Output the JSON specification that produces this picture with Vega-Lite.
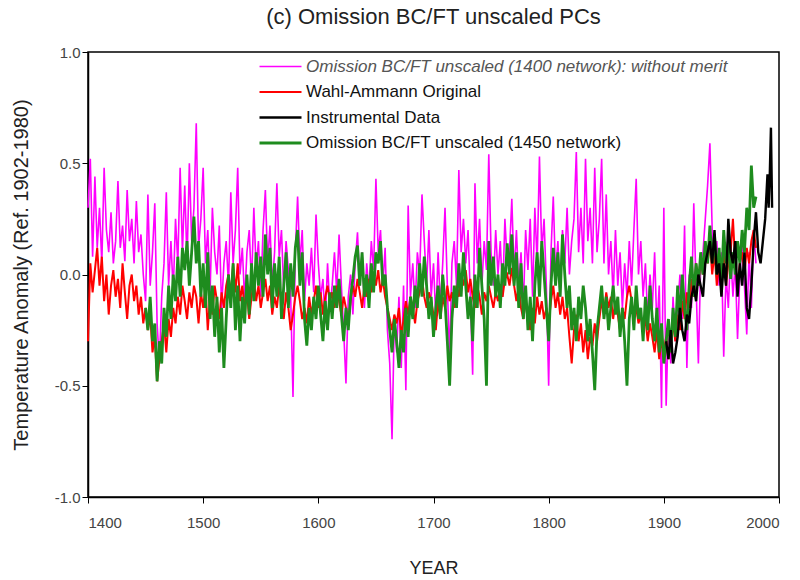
{
"$schema":"https://vega.github.io/schema/vega-lite/v6.json",
"width":691,"height":445,
"autosize":{"type":"none"},
"padding":{"left":88,"top":52,"right":21,"bottom":83},
"background":"white",
"title":{"text":"(c) Omission BC/FT unscaled PCs","fontSize":22,"font":"Liberation Sans","fontWeight":"normal","color":"#222","offset":16,"anchor":"middle"},
"config":{"view":{"stroke":"#000","strokeWidth":1.5},"font":"Liberation Sans"},
"data":{"values":[
{"year":1400,"m":0.30,"r":-0.30},{"year":1402,"m":0.52,"r":0.05},{"year":1404,"m":0.08,"r":-0.08},{"year":1406,"m":0.44,"r":0.02},{"year":1408,"m":0.12,"r":0.12},
{"year":1410,"m":0.30,"r":-0.05},{"year":1412,"m":0.05,"r":0.08},{"year":1414,"m":0.48,"r":-0.12},{"year":1416,"m":0.20,"r":0.00},{"year":1418,"m":0.10,"r":-0.18},
{"year":1420,"m":0.28,"r":-0.05},{"year":1422,"m":0.05,"r":0.02},{"year":1424,"m":0.15,"r":-0.10},{"year":1426,"m":0.42,"r":-0.02},{"year":1428,"m":0.12,"r":-0.15},
{"year":1430,"m":0.22,"r":0.05},{"year":1432,"m":0.06,"r":-0.08},{"year":1434,"m":0.38,"r":-0.20},{"year":1436,"m":0.15,"r":-0.05},{"year":1438,"m":0.25,"r":0.00},
{"year":1440,"m":0.05,"r":-0.12},{"year":1442,"m":0.33,"r":-0.05},{"year":1444,"m":0.10,"r":-0.18},{"year":1446,"m":0.18,"r":-0.10},{"year":1448,"m":0.00,"r":-0.22},
{"year":1450,"m":-0.12,"r":-0.15,"g":-0.15},{"year":1452,"m":0.36,"r":-0.25,"g":-0.25},{"year":1454,"m":-0.05,"r":-0.18,"g":-0.10},{"year":1456,"m":0.10,"r":-0.35,"g":-0.30},{"year":1458,"m":0.32,"r":-0.28,"g":-0.22},
{"year":1460,"m":-0.22,"r":-0.48,"g":-0.48},{"year":1462,"m":-0.40,"r":-0.38,"g":-0.30},{"year":1464,"m":-0.10,"r":-0.30,"g":-0.40},{"year":1466,"m":0.05,"r":-0.22,"g":-0.15},{"year":1468,"m":0.37,"r":-0.35,"g":-0.28},
{"year":1470,"m":-0.05,"r":-0.20,"g":-0.05},{"year":1472,"m":0.15,"r":-0.28,"g":-0.20},{"year":1474,"m":-0.08,"r":-0.15,"g":0.00},{"year":1476,"m":0.25,"r":-0.22,"g":-0.12},{"year":1478,"m":0.05,"r":-0.10,"g":0.08},
{"year":1480,"m":0.48,"r":-0.18,"g":-0.10},{"year":1482,"m":0.10,"r":-0.05,"g":0.12},{"year":1484,"m":0.40,"r":-0.12,"g":0.02},{"year":1486,"m":0.05,"r":-0.20,"g":0.15},{"year":1488,"m":0.50,"r":-0.08,"g":-0.05},
{"year":1490,"m":0.15,"r":-0.15,"g":0.10},{"year":1492,"m":0.30,"r":-0.05,"g":0.26},{"year":1494,"m":0.68,"r":-0.10,"g":0.05},{"year":1496,"m":0.12,"r":-0.22,"g":0.15},{"year":1498,"m":0.25,"r":-0.08,"g":-0.10},
{"year":1500,"m":0.48,"r":-0.15,"g":0.05},{"year":1502,"m":0.05,"r":-0.05,"g":-0.15},{"year":1504,"m":0.20,"r":-0.25,"g":0.10},{"year":1506,"m":-0.08,"r":-0.10,"g":-0.20},{"year":1508,"m":0.30,"r":-0.18,"g":-0.05},
{"year":1510,"m":0.10,"r":-0.05,"g":-0.28},{"year":1512,"m":0.00,"r":-0.12,"g":-0.10},{"year":1514,"m":0.22,"r":-0.20,"g":-0.35},{"year":1516,"m":-0.15,"r":-0.08,"g":-0.15},{"year":1518,"m":0.05,"r":-0.15,"g":-0.42},
{"year":1520,"m":0.15,"r":-0.05,"g":-0.20},{"year":1522,"m":-0.05,"r":0.00,"g":0.00},{"year":1524,"m":0.37,"r":-0.10,"g":-0.15},{"year":1526,"m":0.05,"r":0.05,"g":0.05},{"year":1528,"m":0.20,"r":-0.08,"g":-0.25},
{"year":1530,"m":0.48,"r":0.05,"g":-0.05},{"year":1532,"m":0.00,"r":-0.12,"g":-0.30},{"year":1534,"m":0.12,"r":-0.05,"g":-0.10},{"year":1536,"m":-0.12,"r":-0.15,"g":-0.22},{"year":1538,"m":0.10,"r":-0.08,"g":0.00},
{"year":1540,"m":0.20,"r":-0.20,"g":-0.18},{"year":1542,"m":-0.05,"r":-0.10,"g":0.05},{"year":1544,"m":0.30,"r":-0.02,"g":-0.12},{"year":1546,"m":0.02,"r":-0.12,"g":0.10},{"year":1548,"m":0.15,"r":-0.05,"g":-0.05},
{"year":1550,"m":-0.10,"r":-0.15,"g":0.08},{"year":1552,"m":0.20,"r":-0.08,"g":-0.10},{"year":1554,"m":0.38,"r":-0.02,"g":0.18},{"year":1556,"m":0.05,"r":-0.12,"g":0.00},{"year":1558,"m":0.22,"r":-0.05,"g":0.12},
{"year":1560,"m":-0.05,"r":-0.18,"g":-0.15},{"year":1562,"m":0.10,"r":-0.10,"g":0.05},{"year":1564,"m":0.41,"r":-0.15,"g":-0.10},{"year":1566,"m":0.08,"r":-0.05,"g":0.08},{"year":1568,"m":0.20,"r":-0.12,"g":-0.20},
{"year":1570,"m":-0.08,"r":-0.20,"g":-0.05},{"year":1572,"m":0.15,"r":-0.08,"g":0.10},{"year":1574,"m":0.02,"r":-0.15,"g":-0.15},{"year":1576,"m":-0.10,"r":-0.25,"g":0.05},{"year":1578,"m":-0.55,"r":-0.18,"g":-0.10},
{"year":1580,"m":0.10,"r":-0.10,"g":0.12},{"year":1582,"m":0.35,"r":-0.05,"g":0.20},{"year":1584,"m":0.05,"r":-0.12,"g":-0.05},{"year":1586,"m":0.20,"r":-0.20,"g":0.10},{"year":1588,"m":-0.12,"r":-0.15,"g":-0.20},
{"year":1590,"m":0.05,"r":-0.22,"g":-0.32},{"year":1592,"m":-0.05,"r":-0.10,"g":-0.15},{"year":1594,"m":0.12,"r":-0.18,"g":-0.25},{"year":1596,"m":-0.08,"r":-0.12,"g":-0.10},{"year":1598,"m":0.27,"r":-0.05,"g":-0.20},
{"year":1600,"m":0.05,"r":-0.15,"g":-0.05},{"year":1602,"m":-0.10,"r":-0.08,"g":-0.18},{"year":1604,"m":-0.02,"r":-0.18,"g":-0.30},{"year":1606,"m":-0.22,"r":-0.10,"g":-0.12},{"year":1608,"m":0.05,"r":-0.05,"g":-0.25},
{"year":1610,"m":-0.15,"r":-0.12,"g":-0.08},{"year":1612,"m":-0.05,"r":-0.08,"g":-0.20},{"year":1614,"m":0.10,"r":-0.15,"g":-0.05},{"year":1616,"m":-0.08,"r":-0.05,"g":-0.15},{"year":1618,"m":0.18,"r":-0.12,"g":-0.02},
{"year":1620,"m":-0.05,"r":-0.18,"g":-0.18},{"year":1622,"m":-0.25,"r":-0.10,"g":-0.30},{"year":1624,"m":-0.49,"r":-0.15,"g":-0.15},{"year":1626,"m":-0.10,"r":-0.22,"g":-0.25},{"year":1628,"m":0.00,"r":-0.12,"g":-0.10},
{"year":1630,"m":-0.18,"r":-0.05,"g":-0.02},{"year":1632,"m":0.05,"r":-0.10,"g":0.08},{"year":1634,"m":0.19,"r":-0.02,"g":0.13},{"year":1636,"m":-0.05,"r":-0.08,"g":-0.05},{"year":1638,"m":0.10,"r":-0.15,"g":0.10},
{"year":1640,"m":-0.15,"r":-0.05,"g":-0.10},{"year":1642,"m":0.05,"r":-0.10,"g":0.00},{"year":1644,"m":-0.08,"r":-0.02,"g":-0.15},{"year":1646,"m":0.15,"r":-0.08,"g":0.05},{"year":1648,"m":0.02,"r":0.00,"g":-0.08},
{"year":1650,"m":0.43,"r":-0.05,"g":0.10},{"year":1652,"m":0.10,"r":0.02,"g":0.05},{"year":1654,"m":0.20,"r":-0.08,"g":0.15},{"year":1656,"m":-0.05,"r":-0.02,"g":-0.05},{"year":1658,"m":0.12,"r":-0.10,"g":0.00},
{"year":1660,"m":-0.25,"r":-0.15,"g":-0.15},{"year":1662,"m":-0.40,"r":-0.20,"g":-0.25},{"year":1664,"m":-0.74,"r":-0.25,"g":-0.35},{"year":1666,"m":-0.20,"r":-0.18,"g":-0.20},{"year":1668,"m":-0.35,"r":-0.22,"g":-0.30},
{"year":1670,"m":-0.10,"r":-0.15,"g":-0.42},{"year":1672,"m":-0.42,"r":-0.28,"g":-0.25},{"year":1674,"m":-0.05,"r":-0.20,"g":-0.35},{"year":1676,"m":-0.52,"r":-0.12,"g":-0.15},{"year":1678,"m":0.31,"r":-0.18,"g":-0.28},
{"year":1680,"m":-0.10,"r":-0.10,"g":-0.10},{"year":1682,"m":0.05,"r":-0.15,"g":-0.20},{"year":1684,"m":-0.15,"r":-0.22,"g":-0.05},{"year":1686,"m":0.10,"r":-0.12,"g":-0.15},{"year":1688,"m":0.00,"r":-0.08,"g":0.05},
{"year":1690,"m":0.36,"r":-0.02,"g":-0.10},{"year":1692,"m":0.15,"r":-0.10,"g":0.08},{"year":1694,"m":-0.05,"r":-0.15,"g":-0.05},{"year":1696,"m":0.20,"r":-0.08,"g":-0.20},{"year":1698,"m":-0.10,"r":-0.12,"g":-0.10},
{"year":1700,"m":0.05,"r":-0.18,"g":-0.28},{"year":1702,"m":-0.20,"r":-0.25,"g":-0.15},{"year":1704,"m":0.10,"r":-0.12,"g":-0.05},{"year":1706,"m":-0.15,"r":-0.20,"g":-0.20},{"year":1708,"m":0.05,"r":-0.10,"g":0.00},
{"year":1710,"m":0.30,"r":-0.15,"g":-0.12},{"year":1712,"m":-0.05,"r":-0.05,"g":-0.30},{"year":1714,"m":-0.38,"r":-0.12,"g":-0.50},{"year":1716,"m":0.05,"r":-0.08,"g":-0.20},{"year":1718,"m":0.15,"r":-0.15,"g":-0.05},
{"year":1720,"m":-0.05,"r":-0.05,"g":-0.15},{"year":1722,"m":0.47,"r":-0.10,"g":0.05},{"year":1724,"m":0.10,"r":0.00,"g":-0.10},{"year":1726,"m":0.25,"r":-0.05,"g":0.10},{"year":1728,"m":0.05,"r":0.02,"g":-0.05},
{"year":1730,"m":0.20,"r":-0.08,"g":-0.20},{"year":1732,"m":-0.10,"r":-0.02,"g":-0.10},{"year":1734,"m":-0.45,"r":-0.10,"g":-0.30},{"year":1736,"m":0.41,"r":-0.15,"g":0.00},{"year":1738,"m":0.05,"r":-0.05,"g":-0.15},
{"year":1740,"m":0.25,"r":-0.10,"g":0.12},{"year":1742,"m":-0.05,"r":-0.18,"g":-0.05},{"year":1744,"m":0.15,"r":-0.08,"g":-0.20},{"year":1746,"m":0.02,"r":-0.12,"g":-0.50},{"year":1748,"m":0.54,"r":-0.05,"g":0.15},
{"year":1750,"m":0.10,"r":-0.10,"g":-0.05},{"year":1752,"m":-0.05,"r":-0.15,"g":0.08},{"year":1754,"m":0.20,"r":-0.08,"g":-0.10},{"year":1756,"m":0.00,"r":-0.12,"g":0.00},{"year":1758,"m":0.15,"r":-0.05,"g":-0.15},
{"year":1760,"m":-0.10,"r":-0.10,"g":0.05},{"year":1762,"m":0.25,"r":-0.02,"g":-0.05},{"year":1764,"m":0.05,"r":0.00,"g":0.14},{"year":1766,"m":0.10,"r":-0.05,"g":0.00},{"year":1768,"m":0.34,"r":0.03,"g":0.18},
{"year":1770,"m":0.00,"r":-0.05,"g":-0.05},{"year":1772,"m":0.20,"r":-0.12,"g":0.10},{"year":1774,"m":-0.05,"r":-0.05,"g":-0.15},{"year":1776,"m":0.10,"r":-0.15,"g":0.05},{"year":1778,"m":-0.15,"r":-0.20,"g":-0.20},
{"year":1780,"m":0.20,"r":-0.12,"g":-0.05},{"year":1782,"m":0.02,"r":-0.18,"g":-0.25},{"year":1784,"m":0.25,"r":-0.25,"g":-0.10},{"year":1786,"m":-0.10,"r":-0.15,"g":-0.30},{"year":1788,"m":0.30,"r":-0.22,"g":-0.05},
{"year":1790,"m":0.05,"r":-0.10,"g":0.10},{"year":1792,"m":0.53,"r":-0.18,"g":-0.10},{"year":1794,"m":0.10,"r":-0.12,"g":0.15},{"year":1796,"m":0.25,"r":-0.20,"g":0.00},{"year":1798,"m":-0.05,"r":-0.15,"g":-0.15},
{"year":1800,"m":-0.50,"r":-0.22,"g":-0.30},{"year":1802,"m":0.10,"r":-0.12,"g":-0.05},{"year":1804,"m":0.35,"r":-0.05,"g":0.12},{"year":1806,"m":0.00,"r":-0.15,"g":-0.05},{"year":1808,"m":0.15,"r":-0.08,"g":0.10},
{"year":1810,"m":-0.10,"r":-0.18,"g":-0.10},{"year":1812,"m":0.20,"r":-0.10,"g":0.18},{"year":1814,"m":0.05,"r":-0.20,"g":0.00},{"year":1816,"m":0.30,"r":-0.15,"g":-0.15},{"year":1818,"m":0.00,"r":-0.28,"g":-0.05},
{"year":1820,"m":0.15,"r":-0.40,"g":-0.25},{"year":1822,"m":0.25,"r":-0.25,"g":-0.15},{"year":1824,"m":0.55,"r":-0.18,"g":-0.30},{"year":1826,"m":0.10,"r":-0.30,"g":-0.10},{"year":1828,"m":0.30,"r":-0.22,"g":-0.20},
{"year":1830,"m":0.05,"r":-0.35,"g":-0.05},{"year":1832,"m":0.52,"r":-0.25,"g":-0.15},{"year":1834,"m":0.15,"r":-0.38,"g":-0.30},{"year":1836,"m":0.30,"r":-0.28,"g":-0.20},{"year":1838,"m":0.05,"r":-0.32,"g":-0.35},
{"year":1840,"m":0.48,"r":-0.22,"g":-0.52},{"year":1842,"m":0.10,"r":-0.30,"g":-0.25},{"year":1844,"m":0.25,"r":-0.20,"g":-0.15},{"year":1846,"m":0.52,"r":-0.12,"g":-0.05},{"year":1848,"m":0.05,"r":-0.18,"g":-0.20},
{"year":1850,"m":0.36,"r":-0.08,"g":-0.10},{"year":1852,"m":0.00,"r":-0.15,"g":-0.25},{"year":1854,"m":0.15,"r":-0.10,"g":-0.15},{"year":1856,"m":-0.10,"r":-0.20,"g":-0.05},{"year":1858,"m":0.20,"r":-0.12,"g":-0.18},
{"year":1860,"m":-0.05,"r":-0.18,"g":-0.10},{"year":1862,"m":0.10,"r":-0.25,"g":-0.28},{"year":1864,"m":-0.15,"r":-0.15,"g":-0.15},{"year":1866,"m":0.05,"r":-0.20,"g":-0.30},{"year":1868,"m":-0.10,"r":-0.10,"g":-0.50},
{"year":1870,"m":0.15,"r":-0.05,"g":-0.20},{"year":1872,"m":-0.05,"r":-0.12,"g":-0.10},{"year":1874,"m":0.20,"r":-0.20,"g":-0.25},{"year":1876,"m":0.43,"r":-0.15,"g":-0.05},{"year":1878,"m":0.00,"r":-0.22,"g":-0.20},
{"year":1880,"m":0.15,"r":-0.18,"g":-0.15},{"year":1882,"m":-0.10,"r":-0.25,"g":-0.30},{"year":1884,"m":0.05,"r":-0.20,"g":-0.10},{"year":1886,"m":-0.20,"r":-0.30,"g":-0.25},{"year":1888,"m":0.00,"r":-0.22,"g":-0.05},
{"year":1890,"m":-0.15,"r":-0.28,"g":-0.20},{"year":1892,"m":0.10,"r":-0.35,"g":-0.30},{"year":1894,"m":-0.25,"r":-0.25,"g":-0.15},{"year":1896,"m":-0.05,"r":-0.38,"g":-0.35},{"year":1898,"m":-0.60,"r":-0.30,"g":-0.22},
{"year":1900,"m":0.30,"r":-0.35,"g":-0.40},{"year":1902,"m":-0.59,"r":-0.28,"g":-0.30,"b":-0.30},{"year":1904,"m":-0.20,"r":-0.38,"g":-0.20,"b":-0.38},{"year":1906,"m":-0.40,"r":-0.30,"g":-0.35,"b":-0.25},{"year":1908,"m":-0.10,"r":-0.22,"g":-0.15,"b":-0.40},
{"year":1910,"m":-0.30,"r":-0.30,"g":-0.28,"b":-0.35},{"year":1912,"m":-0.15,"r":-0.18,"g":-0.05,"b":-0.28},{"year":1914,"m":0.00,"r":-0.25,"g":-0.20,"b":-0.15},{"year":1916,"m":-0.20,"r":-0.12,"g":0.00,"b":-0.25},{"year":1918,"m":0.22,"r":-0.20,"g":-0.15,"b":-0.30},
{"year":1920,"m":-0.42,"r":-0.08,"g":-0.25,"b":-0.18},{"year":1922,"m":0.00,"r":-0.15,"g":-0.05,"b":-0.22},{"year":1924,"m":-0.15,"r":-0.02,"g":0.08,"b":-0.10},{"year":1926,"m":0.32,"r":-0.10,"g":-0.10,"b":-0.05},{"year":1928,"m":-0.05,"r":0.05,"g":0.05,"b":-0.12},
{"year":1930,"m":-0.40,"r":-0.05,"g":-0.05,"b":0.00},{"year":1932,"m":0.05,"r":0.08,"g":0.10,"b":-0.05},{"year":1934,"m":0.10,"r":0.00,"g":0.00,"b":-0.10},{"year":1936,"m":0.25,"r":0.10,"g":0.15,"b":0.05},{"year":1938,"m":0.40,"r":0.05,"g":0.05,"b":0.10},
{"year":1940,"m":0.59,"r":0.15,"g":0.22,"b":0.15},{"year":1942,"m":0.20,"r":0.00,"g":0.05,"b":0.05},{"year":1944,"m":0.05,"r":0.10,"g":0.18,"b":0.20},{"year":1946,"m":0.15,"r":-0.05,"g":0.00,"b":0.00},{"year":1948,"m":-0.05,"r":0.05,"g":0.12,"b":0.05},
{"year":1950,"m":0.10,"r":0.00,"g":-0.05,"b":-0.10},{"year":1952,"m":-0.37,"r":0.10,"g":0.20,"b":0.05},{"year":1954,"m":0.00,"r":-0.05,"g":0.05,"b":-0.05},{"year":1956,"m":-0.15,"r":0.05,"g":0.15,"b":0.25},{"year":1958,"m":0.10,"r":0.10,"g":-0.02,"b":0.10},
{"year":1960,"m":-0.10,"r":0.25,"g":0.10,"b":0.05},{"year":1962,"m":0.05,"r":0.05,"g":0.00,"b":0.15},{"year":1964,"m":-0.29,"r":-0.05,"g":0.15,"b":-0.10},{"year":1966,"m":0.00,"r":0.05,"g":0.05,"b":0.05},{"year":1968,"m":0.15,"r":0.10,"g":0.20,"b":-0.05},
{"year":1970,"m":-0.05,"r":0.00,"g":0.10,"b":0.10},{"year":1972,"m":-0.27,"r":0.12,"g":0.30,"b":-0.15},{"year":1974,"m":0.10,"r":0.05,"g":0.20,"b":-0.20},{"year":1976,"m":-0.15,"r":0.15,"g":0.49,"b":-0.05},{"year":1978,"m":0.20,"r":0.20,"g":0.30,"b":0.15},
{"year":1980,"m":0.05,"r":0.12,"g":0.35,"b":0.28},{"year":1982,"b":0.10},{"year":1984,"b":0.05},{"year":1986,"b":0.15},{"year":1988,"b":0.25},
{"year":1990,"b":0.45},{"year":1991,"b":0.30},{"year":1992,"b":0.45},{"year":1993,"b":0.66},{"year":1994,"b":0.30}
]},
"transform":[{"fold":["m","r","g","b"],"as":["series","value"]},{"filter":"isValid(datum.value)"}],
"mark":{"type":"line"},
"encoding":{
"x":{"field":"year","type":"quantitative","scale":{"domain":[1400,2000],"nice":false,"zero":false},
 "axis":{"values":[1400,1500,1600,1700,1800,1900,2000],"format":"d","title":"YEAR","grid":false,"domainColor":"#000","domainWidth":1.5,"tickColor":"#000","tickSize":6,"labelFontSize":15,"labelColor":"#444","labelPadding":12,"titleFontSize":18,"titleFontWeight":"normal","titleColor":"#222","titlePadding":29}},
"y":{"field":"value","type":"quantitative","scale":{"domain":[-1,1],"nice":false,"zero":false},
 "axis":{"values":[-1,-0.5,0,0.5,1],"labelExpr":"datum.value < 0 ? '-' + format(-datum.value, '.1f') : format(datum.value, '.1f')","title":"Temperature Anomaly (Ref. 1902-1980)","grid":false,"domainColor":"#000","domainWidth":1.5,"tickColor":"#000","tickSize":6,"labelFontSize":15,"labelColor":"#444","labelPadding":2,"titleFontSize":20,"titleFontWeight":"normal","titleColor":"#222","titlePadding":23}},
"color":{"field":"series","type":"nominal","scale":{"domain":["m","r","b","g"],"range":["#ff00ff","#ff0000","#000000","#1e8c1e"]},
 "legend":{"orient":"none","legendX":184,"legendY":6,"title":null,"padding":0,"symbolType":"M-3,0H3","symbolSize":196,"symbolStrokeWidth":2.5,"labelOffset":17,"labelFontSize":17,"labelLimit":0,"rowPadding":7.5,
  "labelExpr":"datum.value == 'm' ? 'Omission BC/FT unscaled (1400 network): without merit' : datum.value == 'r' ? 'Wahl-Ammann Original' : datum.value == 'b' ? 'Instrumental Data' : 'Omission BC/FT unscaled (1450 network)'",
  "encode":{"labels":{"update":{"fontStyle":{"signal":"datum.value == 'm' ? 'italic' : 'normal'"},"fill":{"signal":"datum.value == 'm' ? '#555555' : '#111111'"}}}}}},
"strokeWidth":{"field":"series","type":"nominal","scale":{"domain":["m","r","b","g"],"range":[1.6,2.8,2.2,2.0]},"legend":null}
}
}
